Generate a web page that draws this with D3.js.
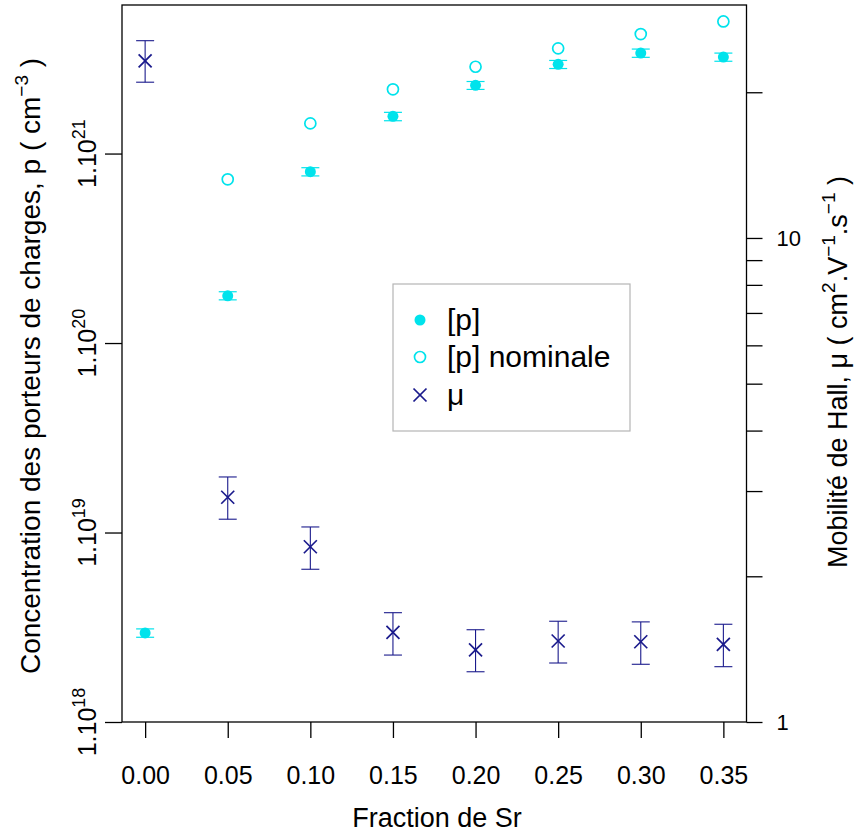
<!DOCTYPE html>
<html><head><meta charset="utf-8">
<script src="https://cdn.jsdelivr.net/npm/d3@7"></script>
<style>
body{margin:0;background:#fff}
svg text{font-family:"Liberation Sans",Arial,Helvetica,sans-serif;fill:#000}
</style>
</head><body>
<svg id="chart" width="855" height="834"></svg>
<script>
// ---- data ----
const fractions = [0.00, 0.05, 0.10, 0.15, 0.20, 0.25, 0.30, 0.35];
const pValues = [2.95e18, 1.776e20, 8.02e20, 1.572e21, 2.29e21, 2.956e21, 3.39e21, 3.23e21];
const pLow    = [2.80e18, 1.69e20, 7.62e20, 1.49e21, 2.18e21, 2.81e21, 3.22e21, 3.07e21];
const pHigh   = [3.10e18, 1.865e20, 8.42e20, 1.65e21, 2.40e21, 3.10e21, 3.56e21, 3.39e21];
const nominalFractions = [0.05, 0.10, 0.15, 0.20, 0.25, 0.30, 0.35];
const pNominal = [7.31e20, 1.443e21, 2.182e21, 2.871e21, 3.59e21, 4.27e21, 4.98e21];
const muValues = [23.21, 2.913, 2.302, 1.532, 1.409, 1.470, 1.465, 1.447];
const muLow    = [20.98, 2.624, 2.068, 1.375, 1.270, 1.324, 1.316, 1.301];
const muHigh   = [25.56, 3.208, 2.529, 1.682, 1.551, 1.615, 1.610, 1.592];
const xTicks = [0.00, 0.05, 0.10, 0.15, 0.20, 0.25, 0.30, 0.35];
const leftTickExponents = [18, 19, 20, 21];
const rightTicks = [1, 2, 3, 4, 5, 6, 7, 8, 9, 10, 20];
const rightTickLabels = [1, 10];
const legendLabels = ["[p]", "[p] nominale", "\u03bc"];

// ---- layout ----
const L = 122, R = 746.5, T = 5, B = 722;
const cyan = "#00e3ec", navy = "#1a1a8c";
const svg = d3.select("#chart");

const x = d3.scaleLinear().domain([-0.014, 0.364]).range([L, R]);
const yL = d3.scaleLog().domain([1e18, Math.pow(10, 21.784)]).range([B, T]);
const yR = d3.scaleLog().domain([1, 30.29]).range([B, T]);

// bottom axis
const gx = svg.append("g").attr("transform", `translate(0,${B})`)
  .call(d3.axisBottom(x).tickValues(xTicks).tickSize(16).tickPadding(28).tickFormat(d3.format(".2f")));
gx.select(".domain").remove();
gx.selectAll("line").attr("stroke", "#000").attr("stroke-width", 1.3);
gx.selectAll("text").attr("font-size", 25).style("font-family", "Liberation Sans, Arial, sans-serif");

// left axis
const gl = svg.append("g").attr("transform", `translate(${L},0)`)
  .call(d3.axisLeft(yL).tickValues(leftTickExponents.map(e => Math.pow(10, e))).tickSize(17).tickFormat(""));
gl.select(".domain").remove();
gl.selectAll("line").attr("stroke", "#000").attr("stroke-width", 1.3);
leftTickExponents.forEach(e => {
  const yy = yL(Math.pow(10, e));
  const t = svg.append("text").attr("transform", `translate(96,${yy}) rotate(-90)`)
    .attr("text-anchor", "middle").attr("font-size", 25);
  t.append("tspan").text("1.10");
  t.append("tspan").attr("dy", -11).attr("font-size", 18).text(e);
});

// right axis
const gr = svg.append("g").attr("transform", `translate(${R},0)`)
  .call(d3.axisRight(yR).tickValues(rightTicks).tickSize(16).tickPadding(14)
    .tickFormat(d => rightTickLabels.includes(d) ? String(d) : ""));
gr.select(".domain").remove();
gr.selectAll("line").attr("stroke", "#000").attr("stroke-width", 1.3);
gr.selectAll("text").attr("font-size", 22).attr("text-anchor", "start")
  .style("font-family", "Liberation Sans, Arial, sans-serif");

// frame
svg.append("rect").attr("x", L).attr("y", T).attr("width", R - L).attr("height", B - T)
  .attr("fill", "none").attr("stroke", "#000").attr("stroke-width", 1.3);

// axis titles
svg.append("text").attr("x", 437).attr("y", 827).attr("text-anchor", "middle")
  .attr("font-size", 27).text("Fraction de Sr");

const lt = svg.append("text").attr("transform", "translate(40,366) rotate(-90)")
  .attr("text-anchor", "middle").attr("font-size", 28);
lt.append("tspan").text("Concentration des porteurs de charges, p  ( cm");
lt.append("tspan").attr("dy", -12).attr("font-size", 19).text("\u22123");
lt.append("tspan").attr("dy", 12).text(" )");

const rt = svg.append("text").attr("transform", "translate(847,372) rotate(-90)")
  .attr("text-anchor", "middle").attr("font-size", 27);
rt.append("tspan").text("Mobilit\u00e9 de Hall, \u03bc  ( cm");
rt.append("tspan").attr("dy", -12).attr("font-size", 19).text("2");
rt.append("tspan").attr("dy", 12).text(".V");
rt.append("tspan").attr("dy", -12).attr("font-size", 19).text("\u22121");
rt.append("tspan").attr("dy", 12).text(".s");
rt.append("tspan").attr("dy", -12).attr("font-size", 19).text("\u22121");
rt.append("tspan").attr("dy", 12).text(" )");

// p error bars
const pData = fractions.map((f, i) => ({f, v: pValues[i], lo: pLow[i], hi: pHigh[i]}));
const pe = svg.append("g").attr("stroke", cyan).attr("stroke-width", 1.2);
pData.forEach(d => {
  pe.append("line").attr("x1", x(d.f)).attr("x2", x(d.f)).attr("y1", yL(d.lo)).attr("y2", yL(d.hi));
  pe.append("line").attr("x1", x(d.f) - 9).attr("x2", x(d.f) + 9).attr("y1", yL(d.lo)).attr("y2", yL(d.lo));
  pe.append("line").attr("x1", x(d.f) - 9).attr("x2", x(d.f) + 9).attr("y1", yL(d.hi)).attr("y2", yL(d.hi));
});
svg.append("g").selectAll("circle").data(pData).join("circle")
  .attr("cx", d => x(d.f)).attr("cy", d => yL(d.v)).attr("r", 5.5).attr("fill", cyan);

// nominal
svg.append("g").selectAll("circle").data(nominalFractions.map((f, i) => ({f, v: pNominal[i]}))).join("circle")
  .attr("cx", d => x(d.f)).attr("cy", d => yL(d.v)).attr("r", 5.5)
  .attr("fill", "none").attr("stroke", cyan).attr("stroke-width", 1.7);

// mu
const muData = fractions.map((f, i) => ({f, v: muValues[i], lo: muLow[i], hi: muHigh[i]}));
const me = svg.append("g").attr("stroke", navy).attr("stroke-width", 1.1);
muData.forEach(d => {
  const cx = x(d.f);
  me.append("line").attr("x1", cx).attr("x2", cx).attr("y1", yR(d.lo)).attr("y2", yR(d.hi));
  me.append("line").attr("x1", cx - 9).attr("x2", cx + 9).attr("y1", yR(d.lo)).attr("y2", yR(d.lo));
  me.append("line").attr("x1", cx - 9).attr("x2", cx + 9).attr("y1", yR(d.hi)).attr("y2", yR(d.hi));
  const cy = yR(d.v), s = 6.5;
  me.append("line").attr("x1", cx - s).attr("x2", cx + s).attr("y1", cy - s).attr("y2", cy + s).attr("stroke-width", 1.7);
  me.append("line").attr("x1", cx - s).attr("x2", cx + s).attr("y1", cy + s).attr("y2", cy - s).attr("stroke-width", 1.7);
});

// legend
const lg = svg.append("g");
lg.append("rect").attr("x", 393).attr("y", 284).attr("width", 237).attr("height", 147)
  .attr("fill", "#fff").attr("stroke", "#b5b5b5").attr("stroke-width", 1.2);
const rows = [320, 357, 395];
lg.append("circle").attr("cx", 420).attr("cy", rows[0]).attr("r", 5.5).attr("fill", cyan);
lg.append("circle").attr("cx", 420).attr("cy", rows[1]).attr("r", 5.5).attr("fill", "none").attr("stroke", cyan).attr("stroke-width", 1.7);
lg.append("line").attr("x1", 413.5).attr("x2", 426.5).attr("y1", rows[2] - 6.5).attr("y2", rows[2] + 6.5).attr("stroke", navy).attr("stroke-width", 1.7);
lg.append("line").attr("x1", 413.5).attr("x2", 426.5).attr("y1", rows[2] + 6.5).attr("y2", rows[2] - 6.5).attr("stroke", navy).attr("stroke-width", 1.7);
legendLabels.forEach((t, i) => {
  lg.append("text").attr("x", 447).attr("y", rows[i] + 10).attr("font-size", 30).text(t);
});
</script>
</body></html>
